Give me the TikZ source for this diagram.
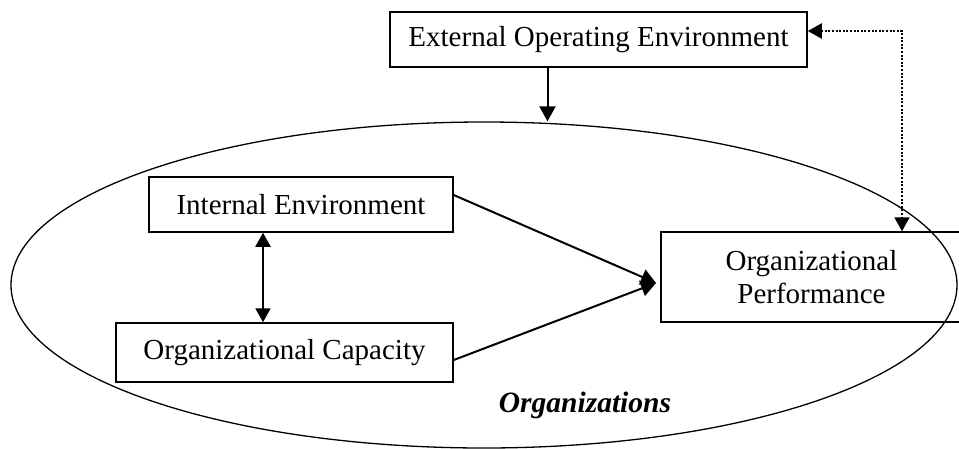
\documentclass[tikz,border=0pt]{standalone}
\usepackage{fontspec}
\setmainfont{Liberation Serif}
\usetikzlibrary{shapes,arrows.meta}

\begin{document}
\begin{tikzpicture}[x=1pt, y=-1pt]
  \tikzstyle{block} = [rectangle, draw, line width=1.5pt, align=center,
    inner sep=0pt, font=\fontsize{29}{33}\selectfont]
  \tikzstyle{line} = [draw, line width=2pt, -{Triangle[length=15pt,width=16pt]}]
  \tikzstyle{twoway} = [draw, line width=2pt,
    {Triangle[length=14pt,width=15pt]}-{Triangle[length=14pt,width=15pt]}]
  \tikzstyle{feedback} = [twoway, dash pattern=on 2pt off 1.6pt]

  \useasboundingbox (0,0) rectangle (959,448);

  % Place nodes
  \node [ellipse, draw, line width=1.3pt, minimum width=946pt,
    minimum height=326pt] (org) at (484,285) {};
  \node [font=\fontsize{29.5}{33}\selectfont\bfseries\itshape] (orglabel)
    at (585,405) {Organizations};
  \node [block, minimum width=417pt, minimum height=55pt] (ext) at (598.5,39.5)
    {External Operating Environment};
  \node [block, minimum width=304pt, minimum height=55pt] (inenv) at (301,204.5)
    {Internal Environment};
  \node [block, minimum width=337pt, minimum height=59pt] (cap) at (284.5,352.5)
    {Organizational Capacity};
  \node [block, minimum width=301pt, minimum height=90pt] (perf) at (811.5,277)
    {Organizational\\Performance};

  \coordinate (join) at (656,283);
  \coordinate (fb) at (902,31);

  % Draw edges
  \path [line] ([xshift=-51pt]ext.south) -- ([xshift=-51pt]ext.south |- org.north);
  \path [twoway] ([xshift=-38pt]inenv.south) -- ([xshift=-38pt]inenv.south |- cap.north);
  \path [line] ([yshift=9.5pt]inenv.east) -- (join);
  \path [line] ([yshift=-7.5pt]cap.east) -- (join);
  \path [feedback] (ext.east |- fb) -| (perf.north -| fb);

\end{tikzpicture}
\end{document}
